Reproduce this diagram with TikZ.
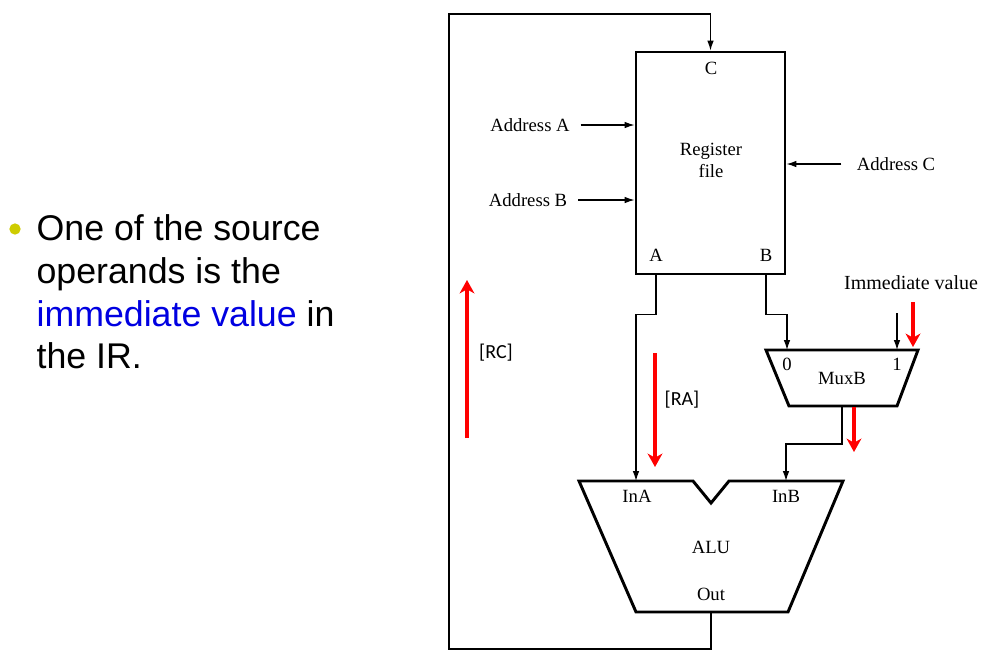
\documentclass[tikz,border=0pt]{standalone}
\usepackage{fontspec}
\setmainfont{Liberation Serif}
\newfontfamily\slidefont{Liberation Sans}
\newfontfamily\notefont{Carlito}
\usetikzlibrary{arrows.meta,positioning}
\definecolor{bulletgold}{RGB}{206,204,0}
\definecolor{linkblue}{RGB}{0,0,225}
\tikzset{
  >={Latex[length=7.5pt,width=5pt]},
}
\tikzstyle{wire}=[line width=0.9pt,->]
\tikzstyle{flow}=[red,line width=2.4pt,-{Stealth[length=10pt,width=11pt,inset=3pt]}]
\tikzstyle{unit}=[line width=2.2pt,line join=miter]
\tikzstyle{every node}=[font=\fontsize{14}{16.5}\selectfont,inner sep=1pt]

\begin{document}
\begin{tikzpicture}[x=0.75pt,y=-0.75pt]
    \useasboundingbox (0,0) rectangle (993,662);
    % slide text
    \node[circle,fill=bulletgold,minimum size=8.5pt,inner sep=0pt] (dot) at (15,229) {};
    \node[anchor=west,align=left,font=\slidefont\fontsize{26.8}{32}\selectfont] (blurb) at (35,292)
      {One of the source\\operands is the\\\textcolor{linkblue}{immediate value} in\\the IR.};
    % register file
    \node[draw,unit,minimum width=111.75pt,minimum height=166.5pt] (regfile) at (710.5,163) {};
    \node[align=center] (rflabel) at (711,160) {Register\\file};
    \node (portc) at (711,68) {C};
    \node (porta) at (656,255) {A};
    \node (portb) at (766,255) {B};
    \node (addra) at (530,125) {Address A};
    \node (addrb) at (528,200) {Address B};
    \node (addrc) at (896,164) {Address C};
    \draw[wire] ([xshift=7pt]addra.east) -- (addra -| regfile.west);
    \draw[wire] ([xshift=7pt]addrb.east) -- (addrb -| regfile.west);
    \draw[wire] ([xshift=-10.5pt]addrc.west) -- (addrc -| regfile.east);
    % mux
    \coordinate (mux0) at (787,350);
    \coordinate (mux1) at (897,350);
    \coordinate (muxout) at (842,406);
    \draw[unit] (766,350) -- (918,350) -- (897,406) -- (789,406) -- cycle;
    \node (sel0) at (787,364) {0};
    \node (sel1) at (897,364) {1};
    \node (muxb) at (842,378) {MuxB};
    \node[font=\fontsize{15}{18}\selectfont] (imm) at (911,283) {Immediate value};
    \coordinate (immfoot) at (897,313);
    % alu
    \coordinate (alua) at (636,481);
    \coordinate (alub) at (786,481);
    \coordinate (aluout) at (711,612);
    \draw[unit] (579,481) -- (693,481) -- (711,503) -- (729,481) -- (843,481) -- (788,612) -- (636,612) -- cycle;
    \node (ina) at (637,496) {InA};
    \node (inb) at (786,496) {InB};
    \node (alu) at (711,547) {ALU};
    \node (out) at (711,594) {Out};
    % wires
    \draw[wire] (porta |- regfile.south) -- ++(0,39) -| (alua);
    \draw[wire] (portb |- regfile.south) -- ++(0,39) -| (mux0);
    \draw[wire] (immfoot) -- (mux1);
    \draw[wire] (muxout) -- ++(0,38) -| (alub);
    \coordinate (loopbl) at (449,649);
    \coordinate (looptl) at (449,14);
    \draw[wire] (aluout) |- (loopbl) -- (looptl) -| (regfile.north);
    % red hints
    \draw[flow] (467,438) -- (467,280);
    \node[font=\notefont\fontsize{15}{17}\selectfont] (rc) at (496,353) {[RC]};
    \draw[flow] (655,353) -- (655,467);
    \node[font=\notefont\fontsize{15}{17}\selectfont] (ra) at (682,400) {[RA]};
    \draw[flow] (913,302) -- (913,347);
    \draw[flow] (854,407) -- (854,452);
\end{tikzpicture}
\end{document}
